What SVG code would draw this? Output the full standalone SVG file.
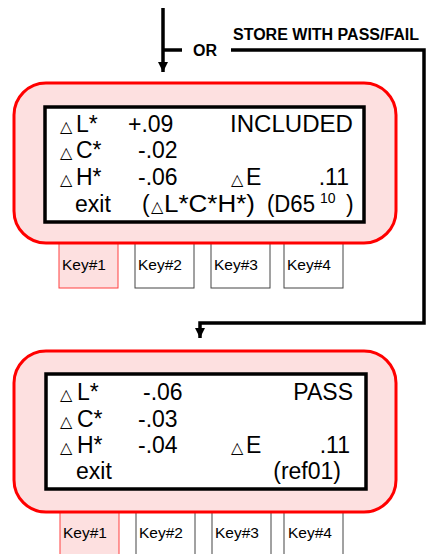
<svg xmlns="http://www.w3.org/2000/svg" width="430" height="554" viewBox="0 0 430 554">
<style>
.panel{fill:#fde0e0;stroke:#ff0000;stroke-width:3}
.lcd{fill:#fff;stroke:#000;stroke-width:3.5}
.t{font-family:"Liberation Sans",Arial,sans-serif;font-size:23px;fill:#000}
.tri{font-family:"DejaVu Sans",sans-serif;font-size:16px;fill:#000}
.sup{font-family:"Liberation Sans",Arial,sans-serif;font-size:14px;fill:#000}
.key{fill:#fff;stroke:#444;stroke-width:1}
.key1{fill:#fde0e0;stroke:#ff4040;stroke-width:1}
.kt{font-family:"Liberation Sans",Arial,sans-serif;font-size:15.5px;fill:#000}
.b{font-family:"Liberation Sans",Arial,sans-serif;font-size:16px;font-weight:bold;fill:#000}
.c{fill:none;stroke:#000;stroke-width:3.5}
</style>
<defs>
<marker id="ah" viewBox="0 0 10 10" refX="10" refY="5" markerWidth="3" markerHeight="3" orient="auto" markerUnits="strokeWidth">
<path d="M0,0 L10,5 L0,10 Z" fill="#000"/>
</marker>
</defs>

<g id="connectors">
<path class="c" d="M163,8 V72" marker-end="url(#ah)"/>
<path class="c" d="M163,50 H182"/>
<path class="c" d="M231,50 H424 V323 H200 V338" marker-end="url(#ah)"/>
<text class="b" x="193" y="56">OR</text>
<text class="b" x="233" y="40">STORE WITH PASS/FAIL</text>
</g>

<g id="keys-top">
<rect class="key1" x="59" y="236" width="59" height="52"/>
<rect class="key" x="135" y="236" width="59" height="52"/>
<rect class="key" x="211" y="236" width="59" height="52"/>
<rect class="key" x="284" y="236" width="59" height="52"/>
<text class="kt" x="62" y="270">Key#1</text>
<text class="kt" x="138" y="270">Key#2</text>
<text class="kt" x="214" y="270">Key#3</text>
<text class="kt" x="287" y="270">Key#4</text>
</g>

<g id="display-top">
<rect class="panel" x="14" y="83" width="382" height="160" rx="32" ry="32"/>
<rect class="lcd" x="45" y="107" width="319" height="115"/>
<text class="tri" x="60" y="132">△</text><text class="t" x="76" y="132">L*</text>
<text class="t" x="128" y="132">+.09</text>
<text class="t" x="353" y="132" text-anchor="end" textLength="123" lengthAdjust="spacingAndGlyphs">INCLUDED</text>
<text class="tri" x="60" y="158">△</text><text class="t" x="76" y="158">C*</text>
<text class="t" x="138" y="158">-.02</text>
<text class="tri" x="60" y="185">△</text><text class="t" x="76" y="185">H*</text>
<text class="t" x="138" y="185">-.06</text>
<text class="tri" x="231" y="185">△</text><text class="t" x="246" y="185">E</text>
<text class="t" x="349" y="185" text-anchor="end">.11</text>
<text class="t" x="75" y="212">exit</text>
<text class="t" x="142" y="212">(</text><text class="tri" x="151" y="212">△</text><text class="t" x="164" y="212" textLength="91" lengthAdjust="spacingAndGlyphs">L*C*H*)</text>
<text class="t" x="267" y="212" textLength="48" lengthAdjust="spacingAndGlyphs">(D65</text>
<text class="sup" x="320" y="203">10</text>
<text class="t" x="346" y="212">)</text>
</g>

<g id="keys-bottom">
<rect class="key1" x="60" y="505" width="59" height="60"/>
<rect class="key" x="136" y="505" width="59" height="60"/>
<rect class="key" x="212" y="505" width="59" height="60"/>
<rect class="key" x="284" y="505" width="59" height="60"/>
<text class="kt" x="63" y="538">Key#1</text>
<text class="kt" x="139" y="538">Key#2</text>
<text class="kt" x="215" y="538">Key#3</text>
<text class="kt" x="288" y="538">Key#4</text>
</g>

<g id="display-bottom">
<rect class="panel" x="14" y="351" width="382" height="161" rx="32" ry="32"/>
<rect class="lcd" x="46" y="374" width="320" height="115"/>
<text class="tri" x="60" y="400">△</text><text class="t" x="77" y="400">L*</text>
<text class="t" x="143" y="400">-.06</text>
<text class="t" x="353" y="400" text-anchor="end">PASS</text>
<text class="tri" x="60" y="427">△</text><text class="t" x="77" y="427">C*</text>
<text class="t" x="138" y="427">-.03</text>
<text class="tri" x="60" y="453">△</text><text class="t" x="77" y="453">H*</text>
<text class="t" x="138" y="453">-.04</text>
<text class="tri" x="231" y="453">△</text><text class="t" x="246" y="453">E</text>
<text class="t" x="350" y="453" text-anchor="end">.11</text>
<text class="t" x="76" y="479">exit</text>
<text class="t" x="341" y="479" text-anchor="end">(ref01)</text>
</g>
</svg>
